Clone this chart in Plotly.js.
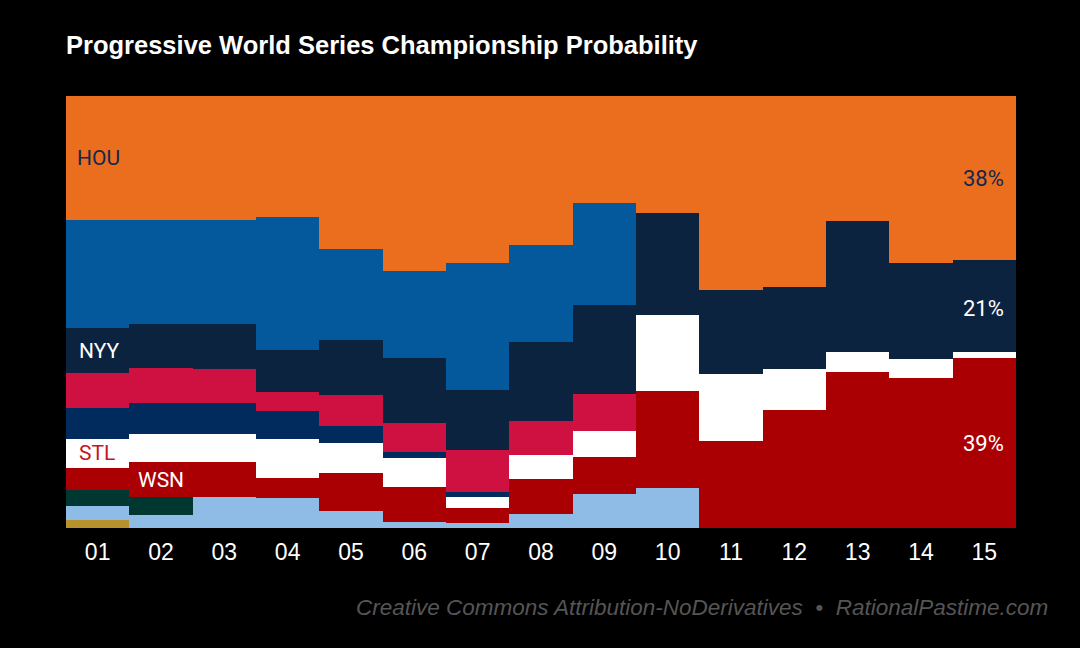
<!DOCTYPE html>
<html>
<head>
<meta charset="utf-8">
<script src="https://cdn.plot.ly/plotly-3.0.1.min.js"></script>
<style>
  html, body { margin: 0; padding: 0; background: #000; }
  #plot { width: 1080px; height: 648px; }
</style>
</head>
<body>
<div id="plot"></div>
<script>
// rounds of the postseason
const rounds = ['01','02','03','04','05','06','07','08','09','10','11','12','13','14','15'];

// championship probability (%) per team, stacked bottom -> top
const mil = [1.8, 0, 0, 0, 0, 0, 0, 0, 0, 0, 0, 0, 0, 0, 0];
const tb  = [3.2, 2.9, 7.1, 6.9, 3.9, 1.3, 1.1, 3.2, 7.8, 9.2, 0, 0, 0, 0, 0];
const oak = [3.9, 4.2, 0, 0, 0, 0, 0, 0, 0, 0, 0, 0, 0, 0, 0];
const wsn = [5.1, 8.1, 8.1, 4.6, 8.8, 8.3, 3.5, 8.1, 8.6, 22.5, 20.1, 27.3, 36.1, 34.7, 39.3];
const stl = [6.7, 6.5, 6.5, 9.0, 7.0, 6.5, 2.5, 5.6, 6.0, 17.6, 15.5, 9.5, 4.6, 4.4, 1.4];
const min = [7.0, 7.2, 7.2, 6.7, 3.9, 1.4, 1.2, 0, 0, 0, 0, 0, 0, 0, 0];
const atl = [8.1, 8.1, 7.9, 4.2, 7.2, 6.7, 9.7, 7.9, 8.6, 0, 0, 0, 0, 0, 0];
const nyy = [10.4, 10.2, 10.4, 9.7, 12.7, 15.1, 13.9, 18.3, 20.6, 23.6, 19.5, 19.0, 30.3, 22.2, 21.3];
const lad = [25.0, 24.1, 24.1, 31.0, 21.1, 20.2, 29.4, 22.5, 23.6, 0, 0, 0, 0, 0, 0];
const hou = [28.7, 28.7, 28.7, 27.8, 35.4, 40.5, 38.7, 34.5, 24.8, 27.1, 44.9, 44.2, 29.0, 38.7, 38.0];

const teams = [
    { name: 'MIL', y: mil, color: '#B6922E' },
    { name: 'TB',  y: tb,  color: '#8FBCE6' },
    { name: 'OAK', y: oak, color: '#003831' },
    { name: 'WSN', y: wsn, color: '#AB0003' },
    { name: 'STL', y: stl, color: '#FFFFFF' },
    { name: 'MIN', y: min, color: '#002B5C' },
    { name: 'ATL', y: atl, color: '#CE1141' },
    { name: 'NYY', y: nyy, color: '#0C2340' },
    { name: 'LAD', y: lad, color: '#03599C' },
    { name: 'HOU', y: hou, color: '#EB6E1F' }
];

const traces = teams.map(t => ({
    x: rounds,
    y: t.y,
    type: 'bar',
    name: t.name,
    marker: { color: t.color, line: { width: 0 } },
    hoverinfo: 'skip'
}));

const last = rounds.length - 1;
const labelFont = { family: 'Roboto, Liberation Sans, sans-serif', size: 21 };

// cumulative midpoint of a team's band in a given round
function mid(idx, col) {
    let base = 0;
    for (let i = 0; i < idx; i++) base += teams[i].y[col];
    return base + teams[idx].y[col] / 2;
}

const annotations = [
    { x: -0.36, y: 85.6, text: 'HOU', xanchor: 'left', font: { ...labelFont, color: '#13274F' } },
    { x: -0.33, y: 41.0, text: 'NYY', xanchor: 'left', font: { ...labelFont, color: '#FFFFFF' } },
    { x: -0.32, y: 17.4, text: 'STL', xanchor: 'left', font: { ...labelFont, color: '#C4161C' } },
    { x: 0.60,  y: 11.1, text: 'WSN', xanchor: 'left', font: { ...labelFont, color: '#FFFFFF' } },
    { x: last + 0.34, y: 80.8, text: Math.round(hou[last]) + '%', xanchor: 'right', font: { ...labelFont, size: 22, color: '#13274F' } },
    { x: last + 0.34, y: mid(7, last) - 0.5, text: Math.round(nyy[last]) + '%', xanchor: 'right', font: { ...labelFont, size: 22, color: '#FFFFFF' } },
    { x: last + 0.34, y: mid(3, last), text: Math.round(wsn[last]) + '%', xanchor: 'right', font: { ...labelFont, size: 22, color: '#FFFFFF' } }
].map(a => ({ ...a, xref: 'x', yref: 'y', yanchor: 'middle', showarrow: false }));

annotations.push({
    xref: 'paper', yref: 'paper',
    x: 1.0358, y: -0.185,
    xanchor: 'right', yanchor: 'middle',
    text: '<i>Creative Commons Attribution-NoDerivatives  •  RationalPastime.com</i>',
    showarrow: false,
    font: { family: 'Liberation Sans, sans-serif', size: 22.5, color: '#555555' }
});

const layout = {
    width: 1080,
    height: 648,
    paper_bgcolor: '#000000',
    plot_bgcolor: '#000000',
    margin: { l: 66, r: 64, t: 96, b: 120 },
    barmode: 'stack',
    bargap: 0,
    showlegend: false,
    hovermode: false,
    title: {
        text: '<b>Progressive World Series Championship Probability</b>',
        xref: 'container', yref: 'container',
        x: 66 / 1080, xanchor: 'left',
        y: 1 - 45 / 648, yanchor: 'middle',
        font: { family: 'Liberation Sans, sans-serif', size: 25.5, color: '#FFFFFF' }
    },
    xaxis: {
        type: 'category',
        showgrid: false,
        zeroline: false,
        showline: false,
        ticks: '',
        ticklabelstandoff: 8,
        tickfont: { family: 'Liberation Sans, sans-serif', size: 23, color: '#FFFFFF' }
    },
    yaxis: {
        range: [0, 100],
        showgrid: false,
        zeroline: false,
        showline: false,
        showticklabels: false,
        ticks: ''
    },
    annotations: annotations
};

Plotly.newPlot('plot', traces, layout, { displayModeBar: false, staticPlot: true });
</script>
</body>
</html>
